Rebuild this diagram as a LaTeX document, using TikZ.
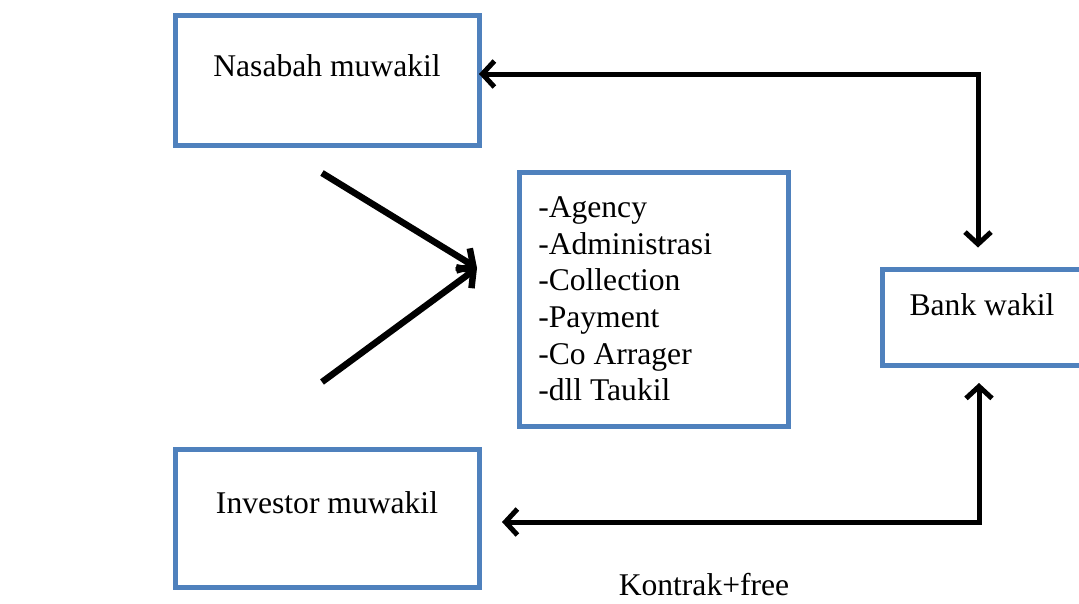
\documentclass[tikz,border=0pt]{standalone}
\usepackage{fontspec}
\setmainfont{Liberation Serif}
\usetikzlibrary{arrows.meta,calc}
\definecolor{boxblue}{HTML}{4F81BD}
\begin{document}
\begin{tikzpicture}[x=1pt,y=-1pt,
  every node/.style={font=\fontsize{31.6}{36.6}\selectfont},
  box/.style={draw=boxblue, line width=5pt, outer sep=0pt, inner sep=0pt, fill=white},
  barb/.tip={Straight Barb[length=12pt,width=26pt]},
  conn/.style={line width=5pt, barb-barb},
  conv/.style={line width=6.5pt, -{Straight Barb[length=12pt,width=26pt]}}]
\useasboundingbox (0,0) rectangle (1079,603);
\clip (0,0) rectangle (1079,603);
\node[box, anchor=base, minimum width=304pt, text height=61.5pt, text depth=68.5pt] (nas) at (327,76.5) {Nasabah muwakil};
\node[box, anchor=base, minimum width=304pt, text height=64.5pt, text depth=73.5pt] (inv) at (327,513.5) {Investor muwakil};
\node[box, anchor=base, minimum width=200pt, text height=46pt, text depth=49.5pt] (bank) at (982,315.5) {Bank wakil};
\node[box, minimum width=268.5pt, minimum height=254pt, text width=231.5pt, align=left, inner xsep=18.5pt] (list) at (654,299)
  {\spaceskip=0pt \xspaceskip=0pt -Agency\\-Administrasi\\-Collection\\-Payment\\-Co Arrager\\-dll Taukil};
\node[anchor=base] (kontrak) at (704,595) {Kontrak+free};
\coordinate (n1) at (322,173);
\coordinate (n2) at (322,382);
\coordinate (tip) at (477,268);
\draw[conv] (n1) -- (tip);
\draw[conv] (n2) -- (tip);
\draw[conn] ([yshift=6pt]nas.east) -| ([xshift=-4pt,yshift=22pt]bank.north);
\draw[conn] ([xshift=-3pt,yshift=-18pt]bank.south) |- ([xshift=23pt,yshift=-4pt]inv.east);
\end{tikzpicture}
\end{document}
